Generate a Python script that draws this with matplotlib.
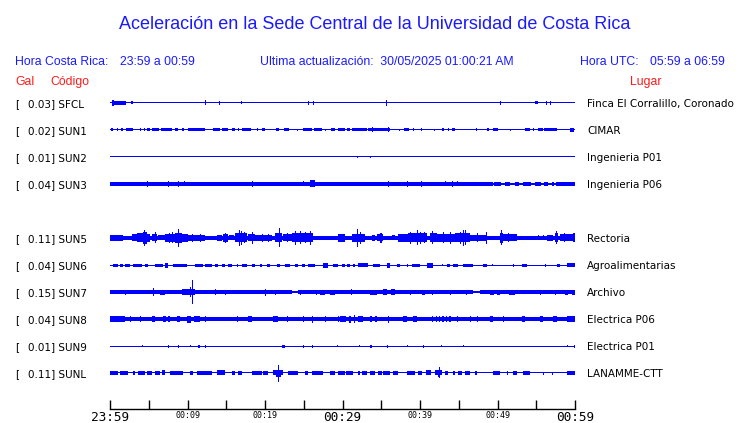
import matplotlib
matplotlib.use("Agg")
import matplotlib.pyplot as plt
import matplotlib.transforms as mtransforms

W, H = 740, 423

# stations, top to bottom (row 4 = SUN4, no data)
codes = ["SFCL", "SUN1", "SUN2", "SUN3", "SUN5", "SUN6", "SUN7", "SUN8", "SUN9", "SUNL"]
rows = [0, 1, 2, 3, 5, 6, 7, 8, 9, 10]
peak_gal = [0.03, 0.02, 0.01, 0.04, 0.11, 0.04, 0.15, 0.04, 0.01, 0.11]
places = ["Finca El Corralillo, Coronado", "CIMAR", "Ingenieria P01", "Ingenieria P06",
          "Rectoria", "Agroalimentarias", "Archivo", "Electrica P06", "Electrica P01",
          "LANAMME-CTT"]
# half width of the quiet trace (px)
base_amp = [0.5, 0.5, 0.5, 1.0, 1.7, 0.5, 1.0, 1.8, 0.5, 0.5]

# bursts: (start min, end min, half amplitude px); start == end -> single spike
sfcl_bursts = [(0.2, 2.1, 2), (0.3, 0.5, 3), (1.6, 1.9, 1.5), (2.7, 3.0, 1.5),
               (12.2, 12.2, 2.5), (14.0, 14.0, 2), (16.9, 16.9, 1.5), (25.5, 25.5, 2),
               (26.2, 26.2, 2), (35.6, 35.6, 3), (50.3, 50.3, 2), (54.8, 55.2, 1.5),
               (56.2, 56.2, 2), (56.8, 56.8, 2)]
sun1_bursts = [(0.1, 0.4, 1.5), (0.9, 0.9, 1.5), (1.4, 1.7, 1.5), (2.1, 3.0, 1.5),
               (3.9, 3.9, 1.5), (4.4, 4.4, 1.5), (4.8, 5.2, 1.5), (5.4, 6.3, 1.5),
               (6.6, 8.0, 1.5), (8.4, 8.8, 1.5), (9.3, 9.5, 1.5), (10.1, 12.3, 1.5),
               (13.3, 14.2, 1.5), (14.5, 15.2, 1.5), (15.7, 16.1, 1.5), (16.5, 16.5, 1.5),
               (17.0, 18.2, 1.5), (19.0, 19.0, 1.5), (19.6, 20.0, 1.5), (21.4, 21.8, 1.5),
               (22.5, 23.1, 1.5), (24.1, 24.1, 1.0), (24.9, 26.0, 1.5), (26.3, 27.4, 1.5),
               (27.7, 27.7, 1.0), (28.5, 29.0, 1.5), (29.4, 30.3, 1.5), (30.6, 31.0, 1.5),
               (31.2, 33.2, 1.5), (33.3, 36.1, 1.5), (33.8, 33.8, 2.5), (35.9, 35.9, 2.5),
               (37.3, 37.3, 1.0), (37.9, 38.6, 1.5), (39.1, 39.1, 1.5), (40.1, 40.1, 1.5),
               (41.8, 41.8, 1.0), (42.8, 43.1, 1.5), (43.6, 43.6, 1.5), (44.1, 44.5, 1.5),
               (47.2, 47.2, 1.5), (48.6, 48.9, 1.5), (49.4, 50.1, 1.5), (51.6, 51.6, 1.0),
               (53.5, 54.2, 1.5), (54.6, 54.6, 1.5), (55.2, 55.9, 1.5), (56.0, 57.7, 1.5),
               (59.4, 59.9, 1.8)]
sun2_bursts = [(31.9, 31.9, 1.0), (33.5, 33.5, 1.0)]
sun3_bursts = [(0.0, 49.4, 2.0), (4.8, 4.8, 3), (7.5, 7.5, 3), (8.8, 8.8, 3),
               (9.5, 9.5, 2.5), (18.3, 18.3, 3), (24.9, 24.9, 2.5), (25.8, 26.4, 3.5),
               (35.9, 35.9, 3), (38.3, 38.3, 3), (40.1, 40.1, 3), (43.2, 43.2, 2.5),
               (44.1, 44.1, 3), (44.8, 44.8, 2.5), (49.6, 50.4, 2.0), (51.0, 51.6, 2.0),
               (52.3, 52.8, 2.0), (53.3, 54.3, 2.0), (54.9, 55.6, 2.0), (56.0, 56.5, 2.0),
               (57.0, 57.3, 2.0), (57.6, 60.0, 2.0)]
sun5_bursts = [(0.0, 1.7, 2.7), (2.8, 3.5, 3.5), (3.5, 4.3, 4.5), (4.3, 4.8, 6),
               (4.4, 4.4, 8), (4.8, 5.2, 4), (5.4, 6.1, 3.5), (5.8, 5.8, 5.5),
               (6.2, 7.1, 2.5), (7.1, 8.4, 4), (7.6, 7.6, 5), (8.0, 8.0, 5.5),
               (8.4, 9.3, 5), (8.8, 8.8, 9), (9.3, 10.1, 4), (10.1, 12.3, 3),
               (10.6, 10.6, 4), (11.6, 11.6, 4), (13.8, 14.5, 3), (14.6, 15.2, 4),
               (14.8, 14.8, 5), (15.3, 16.0, 2.5), (16.1, 17.7, 4.5), (16.6, 16.6, 8),
               (16.9, 16.9, 7), (17.3, 17.3, 5.5), (17.8, 18.7, 3.5), (18.3, 18.3, 6),
               (18.7, 20.9, 3), (19.6, 19.6, 4), (20.4, 20.4, 4), (21.3, 22.2, 4.5),
               (21.8, 21.8, 9.5), (22.3, 23.5, 3.5), (22.8, 22.8, 4.5), (23.5, 26.2, 4.5),
               (23.9, 23.9, 7), (24.5, 24.5, 6.5), (25.1, 25.1, 5.5), (25.8, 25.8, 7),
               (29.4, 30.3, 4), (31.2, 32.9, 4), (31.9, 31.9, 9), (32.2, 32.2, 6),
               (33.8, 34.2, 3), (34.5, 35.2, 3.5), (34.9, 34.9, 5), (36.4, 36.8, 2.5),
               (37.2, 38.5, 4), (38.7, 38.7, 6), (38.5, 40.9, 4.5), (39.6, 39.6, 7.5),
               (40.0, 40.0, 6), (40.5, 40.5, 5.5), (41.3, 42.2, 4.5), (41.5, 41.5, 6.5),
               (42.2, 44.5, 4), (43.0, 43.0, 5.5), (43.9, 43.9, 6), (44.5, 46.5, 4.5),
               (45.5, 45.5, 8), (45.8, 45.8, 7.5), (45.1, 45.1, 6), (46.5, 48.6, 3),
               (47.3, 47.3, 4.5), (48.5, 48.5, 6), (50.3, 50.7, 5), (50.5, 50.5, 7.5),
               (50.7, 52.5, 3.5), (51.3, 51.3, 4.5), (55.2, 55.2, 2.5), (55.9, 55.9, 2.5),
               (56.4, 57.2, 3), (57.4, 57.8, 4.5), (57.6, 57.6, 6.5), (58.1, 60.0, 3.5),
               (58.6, 58.6, 4.5), (59.8, 59.8, 4.5)]
sun6_bursts = [(0.4, 1.0, 1.5), (1.3, 1.7, 1.5), (1.9, 2.6, 1.5), (3.0, 4.1, 1.5),
               (4.5, 4.9, 1.5), (5.8, 6.8, 1.5), (7.1, 7.5, 2.5), (8.1, 9.9, 1.5),
               (11.0, 12.0, 1.5), (12.3, 13.2, 1.5), (13.5, 13.9, 1.5), (14.5, 14.8, 1.5),
               (15.2, 15.7, 1.5), (16.4, 16.5, 1.5), (17.0, 17.7, 1.5), (18.3, 18.7, 1.5),
               (19.4, 19.6, 1.5), (20.3, 20.6, 1.5), (21.5, 21.9, 1.5), (22.6, 23.2, 1.5),
               (23.9, 24.3, 1.5), (24.8, 25.2, 1.5), (25.5, 26.5, 1.5), (27.5, 28.1, 2.5),
               (28.8, 29.4, 1.5), (29.9, 30.3, 1.5), (30.6, 31.0, 1.5), (31.4, 31.6, 1.5),
               (32.0, 33.3, 1.8), (33.9, 34.8, 1.5), (35.7, 36.1, 2.5), (37.0, 37.4, 1.5),
               (38.3, 38.3, 1.5), (39.0, 40.0, 1.5), (40.9, 41.7, 2.5), (42.8, 42.8, 1.0),
               (43.5, 43.9, 1.5), (44.3, 44.9, 1.5), (45.5, 46.8, 1.5), (48.1, 48.6, 1.5),
               (49.3, 49.3, 1.0), (52.0, 52.0, 1.5), (53.2, 53.8, 1.5), (56.1, 56.1, 1.5),
               (57.7, 58.1, 1.5), (59.0, 60.0, 1.8)]
sun7_bursts = [(0.0, 23.5, 1.7), (24.3, 46.8, 1.7), (47.7, 60.0, 1.7), (1.9, 1.9, 2.5),
               (5.5, 5.5, 4), (6.5, 7.1, 2.5), (9.3, 11.0, 3), (10.3, 10.3, 5),
               (10.6, 10.6, 12), (13.5, 13.5, 3), (14.8, 14.8, 2.5), (20.0, 20.0, 3.5),
               (21.3, 21.3, 2.5), (24.5, 24.5, 2.5), (26.6, 26.6, 2.5), (27.1, 27.8, 2.5),
               (28.4, 29.0, 2.5), (31.1, 31.1, 3), (33.5, 34.5, 2.5), (35.2, 35.8, 3),
               (36.2, 36.8, 3), (38.7, 38.7, 2.5), (40.2, 40.6, 2.5), (41.5, 41.5, 2.5),
               (43.9, 43.9, 2.5), (45.9, 45.9, 2.5), (49.0, 49.5, 2.5), (49.9, 50.3, 2.5),
               (51.5, 52.3, 2.5), (55.5, 55.5, 2.5), (57.4, 57.4, 2.5), (58.7, 59.1, 2.5),
               (59.6, 60.0, 2.5)]
sun8_bursts = [(0.0, 1.9, 3), (2.6, 2.6, 3), (3.9, 3.9, 3), (5.4, 5.8, 3),
               (6.8, 7.2, 3), (7.5, 7.7, 3), (8.6, 9.0, 3), (9.9, 10.5, 3.5),
               (10.9, 11.6, 3), (12.3, 12.3, 3), (16.4, 16.4, 3), (17.8, 18.3, 3),
               (21.0, 21.7, 3), (22.8, 22.8, 3), (24.9, 24.9, 3), (26.1, 26.1, 3.5),
               (27.7, 27.7, 3), (29.4, 29.4, 3), (29.7, 30.5, 3), (30.9, 30.9, 3.5),
               (31.5, 31.5, 4), (32.0, 32.6, 3), (33.5, 33.8, 3), (34.2, 34.5, 3),
               (35.9, 35.9, 3.5), (37.8, 38.3, 3), (39.1, 39.6, 3), (41.5, 41.5, 3),
               (42.0, 42.0, 3), (42.4, 42.4, 3), (42.9, 42.9, 3), (43.3, 43.3, 3),
               (43.8, 43.8, 3), (44.8, 44.8, 3), (46.5, 46.5, 3), (47.4, 47.4, 3),
               (49.0, 49.4, 3), (50.7, 50.7, 3), (53.2, 53.5, 3), (55.5, 55.9, 3),
               (57.2, 57.7, 3), (59.0, 60.0, 3)]
sun9_bursts = [(4.1, 4.1, 1.0), (7.5, 7.5, 1.5), (8.8, 8.8, 1.5), (10.3, 10.3, 1.0),
               (11.4, 11.6, 1.5), (12.3, 12.3, 1.5), (22.2, 22.6, 1.5), (24.9, 24.9, 1.5),
               (26.1, 26.1, 1.5), (29.3, 29.3, 1.0), (32.1, 32.1, 1.0), (33.5, 33.8, 1.5),
               (35.7, 35.7, 1.5), (38.3, 38.3, 1.0), (40.4, 40.4, 1.5), (42.7, 42.7, 1.0),
               (45.5, 45.5, 1.0), (59.0, 59.0, 1.0), (59.9, 59.9, 1.5)]
sunl_bursts = [(0.0, 1.0, 1.8), (1.3, 2.3, 1.8), (3.0, 3.2, 1.8), (3.6, 4.5, 1.8),
               (4.8, 5.4, 1.8), (5.8, 6.5, 1.8), (6.7, 7.1, 2.5), (7.7, 9.4, 1.8),
               (10.3, 10.7, 1.8), (11.2, 13.2, 1.8), (13.8, 14.8, 2.5), (15.7, 16.1, 1.8),
               (16.5, 17.0, 1.8), (18.3, 19.6, 2.0), (19.7, 20.4, 1.8), (21.0, 22.3, 2.5),
               (21.4, 22.0, 3.5), (21.7, 21.7, 8.5), (23.0, 24.3, 1.8), (25.2, 25.5, 1.8),
               (26.1, 27.5, 1.8), (28.4, 29.0, 1.8), (29.4, 30.3, 1.8), (30.5, 31.4, 1.8),
               (32.0, 32.3, 1.8), (32.5, 33.2, 1.8), (33.5, 34.2, 1.8), (34.6, 35.1, 1.8),
               (35.2, 36.1, 1.8), (36.5, 37.2, 1.8), (38.3, 39.4, 1.8), (39.7, 40.3, 1.8),
               (40.8, 41.4, 2.5), (41.9, 42.8, 2.5), (42.3, 42.6, 3.5), (42.5, 42.5, 5.5),
               (43.2, 43.6, 2.0), (44.3, 44.5, 1.8), (44.9, 45.4, 1.8), (45.8, 46.5, 1.8),
               (47.1, 47.4, 1.8), (49.4, 50.3, 1.8), (51.2, 51.4, 1.8), (52.0, 52.5, 1.8),
               (53.3, 54.2, 1.8), (55.9, 56.0, 1.5), (57.0, 57.0, 1.5), (59.0, 60.0, 1.8)]
bursts = [sfcl_bursts, sun1_bursts, sun2_bursts, sun3_bursts, sun5_bursts,
          sun6_bursts, sun7_bursts, sun8_bursts, sun9_bursts, sunl_bursts]

tick_minutes = list(range(0, 61, 5))
tick_labels = {0: "23:59", 10: "00:09", 20: "00:19", 30: "00:29",
               40: "00:39", 50: "00:49", 60: "00:59"}
big_labels = [0, 30, 60]

BLUE = "#0000ff"
TXT_BLUE = "#1a1aff"
RED = "#ff1a1a"
ROW_PX = 27.0

fig = plt.figure(figsize=(W / 100, H / 100), dpi=100)
fig.patch.set_facecolor("white")

def fx(x):
    return x / W

def fy(y):
    return 1 - y / H

# trace axes: x 110..575 px, bottom axis line at 409 px
ax = fig.add_axes([fx(110), fy(409), 465 / W, (409 - 90) / H])
ax.set_xlim(0, 60)
ax.set_ylim((409 - 103) / ROW_PX, -(103 - 90) / ROW_PX)

for row, base, bl in zip(rows, base_amp, bursts):
    b = max(base, 0.5) / ROW_PX
    ax.bar(0, 2 * b, width=60, bottom=row - b, align="edge", color=BLUE,
           linewidth=0, antialiased=False)
    starts = [s for s, e, a in bl]
    widths = [max(e - s, 0.14) for s, e, a in bl]
    halves = [a / ROW_PX for s, e, a in bl]
    ax.bar(starts, [2 * h for h in halves], width=widths,
           bottom=[row - h for h in halves], align="edge", color=BLUE,
           linewidth=0, antialiased=False)

for side in ["top", "left", "right"]:
    ax.spines[side].set_visible(False)
ax.spines["bottom"].set_linewidth(1.0)
ax.set_yticks([])
ax.set_xticks(tick_minutes)
ax.set_xticklabels([])
ax.tick_params(axis="x", direction="in", length=6.5, width=1.0)
ax.patch.set_alpha(0)

trans = mtransforms.blended_transform_factory(ax.transData, fig.transFigure)
for m, lab in tick_labels.items():
    if m in big_labels:
        ax.text(m, fy(420.7), lab, transform=trans, ha="center", va="baseline",
                fontsize=9.2, family="DejaVu Sans Mono", color="black")
    else:
        ax.text(m, fy(418.3), lab, transform=trans, ha="center", va="baseline",
                fontsize=6, family="DejaVu Sans Mono", color="black")

# station labels
for row, code, g, place in zip(rows, codes, peak_gal, places):
    yb = 103 + ROW_PX * row + 3.7
    fig.text(fx(15), fy(yb), "[", fontsize=7.5, family="DejaVu Sans", va="baseline")
    fig.text(fx(28), fy(yb), f"{g:.2f}] {code}", fontsize=7.5, family="DejaVu Sans",
             va="baseline")
    fig.text(fx(587), fy(yb), place, fontsize=7.5, family="DejaVu Sans", va="baseline")

# headers
fig.text(fx(375), fy(29), "Aceleración en la Sede Central de la Universidad de Costa Rica",
         ha="center", va="baseline", fontsize=13, family="Liberation Sans", color=TXT_BLUE)
hdr = dict(va="baseline", fontsize=8.8, family="Liberation Sans", color=TXT_BLUE)
fig.text(fx(15), fy(65), "Hora Costa Rica:", **hdr)
fig.text(fx(120), fy(65), "23:59 a 00:59", **hdr)
fig.text(fx(260), fy(65), "Ultima actualización:  30/05/2025 01:00:21 AM", **hdr)
fig.text(fx(580), fy(65), "Hora UTC:", **hdr)
fig.text(fx(650), fy(65), "05:59 a 06:59", **hdr)
red = dict(va="baseline", fontsize=8.8, family="Liberation Sans", color=RED)
fig.text(fx(15), fy(85), "Gal", **red)
fig.text(fx(50), fy(85), "Código", **red)
fig.text(fx(630), fy(85), "Lugar", **red)

fig.savefig("out.png", dpi=100, facecolor="white")
